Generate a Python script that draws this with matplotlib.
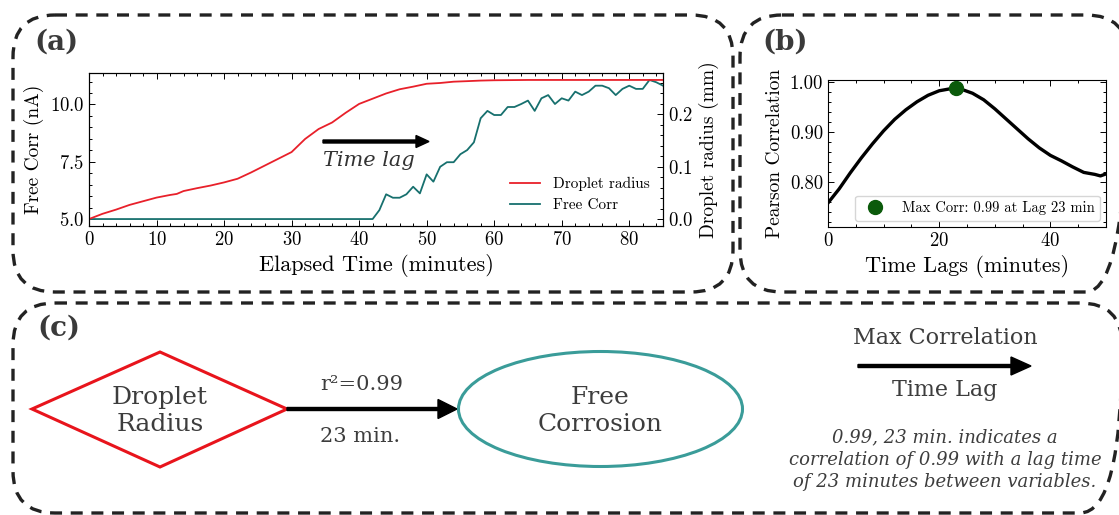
import matplotlib
matplotlib.use('Agg')
import matplotlib.pyplot as plt
from matplotlib.patches import FancyBboxPatch, Polygon, Ellipse
from matplotlib.ticker import AutoMinorLocator, MultipleLocator, FormatStrFormatter

plt.rcParams['font.family'] = 'cmr10'
plt.rcParams['mathtext.fontset'] = 'cm'
plt.rcParams['axes.formatter.use_mathtext'] = True
plt.rcParams['axes.unicode_minus'] = False

# data, panel (a)
t_radius = [0, 2, 4, 6, 8, 10, 12, 13, 14, 16, 18, 20, 22, 24, 26, 28, 30, 32, 34, 36,
            38, 40, 42, 44, 46, 48, 50, 52, 54, 56, 58, 60, 65, 70, 75, 80, 85]
radius_mm = [0.000, 0.010, 0.018, 0.027, 0.034, 0.041, 0.046, 0.048, 0.0535, 0.059, 0.064,
             0.070, 0.077, 0.089, 0.102, 0.115, 0.128, 0.153, 0.172, 0.1845, 0.203, 0.220,
             0.230, 0.240, 0.248, 0.253, 0.2585, 0.260, 0.2625, 0.2635, 0.2646, 0.2652,
             0.2658, 0.2658, 0.2658, 0.2658, 0.2658]

t_corr = [0, 42, 43, 44, 45, 46, 47, 48, 49, 50, 51, 52, 53, 54, 55, 56, 57, 58, 59, 60,
          61, 62, 63, 64, 65, 66, 67, 68, 69, 70, 71, 72, 73, 74, 75, 76, 77, 78, 79, 80,
          81, 82, 83, 84, 85]
corr_nA = [5.00, 5.00, 5.39, 6.08, 5.93, 5.93, 6.08, 6.41, 6.12, 6.95, 6.63, 7.28, 7.48,
           7.48, 7.83, 8.01, 8.35, 9.40, 9.72, 9.54, 9.54, 9.89, 9.89, 10.02, 10.17, 9.72,
           10.27, 10.41, 10.02, 10.27, 10.17, 10.56, 10.41, 10.56, 10.82, 10.82, 10.71,
           10.41, 10.68, 10.82, 10.68, 10.68, 11.07, 10.97, 10.82]

# data, panel (b)
lags = [0, 2, 4, 6, 8, 10, 12, 14, 16, 18, 20, 22, 23, 24, 26, 28, 30, 32, 34, 36, 38,
        40, 42, 44, 46, 48, 49, 50]
pearson = [0.758, 0.786, 0.818, 0.848, 0.876, 0.902, 0.925, 0.944, 0.960, 0.973, 0.982,
           0.986, 0.987, 0.985, 0.977, 0.964, 0.946, 0.926, 0.906, 0.886, 0.868, 0.853,
           0.842, 0.830, 0.819, 0.815, 0.812, 0.816]
best_lag = 23
best_corr = 0.987

RED = '#e8202a'
TEAL = '#17706e'
GREY = '#3d3d3d'
W, H = 1119, 515

fig = plt.figure(figsize=(W / 100, H / 100), dpi=100)


def px_axes(left, top, right, bottom):
    return fig.add_axes([left / W, 1 - bottom / H, (right - left) / W, (bottom - top) / H])


def style(ax):
    ax.tick_params(which='both', direction='in', top=True, labelsize=13.5, width=0.7)
    ax.tick_params(which='major', length=4.5)
    ax.tick_params(which='minor', length=2.5)
    for s in ax.spines.values():
        s.set_linewidth(0.8)


# ---- panel (a)
ax_a = px_axes(89, 73, 663, 226)
ax_a.plot(t_corr, corr_nA, color=TEAL, lw=1.3, label='Free Corr')
ax_a.set_xlim(0, 85)
ax_a.set_ylabel('Free Corr (nA)', fontsize=14)
ax_a.set_xlabel('Elapsed Time (minutes)', fontsize=16)
ax_a.yaxis.set_major_locator(MultipleLocator(2.5))
ax_a.xaxis.set_minor_locator(AutoMinorLocator(5))
ax_a.yaxis.set_minor_locator(AutoMinorLocator(5))
style(ax_a)
ax_a.tick_params(which='both', right=False)

ax_a2 = ax_a.twinx()
ax_a2.plot(t_radius, radius_mm, color=RED, lw=1.3, label='Droplet radius')
ax_a2.set_ylabel('Droplet radius (mm)', fontsize=14)
ax_a2.yaxis.set_minor_locator(AutoMinorLocator(5))
ax_a2.tick_params(which='both', direction='in', labelsize=13.5, width=0.7)
ax_a2.tick_params(which='major', length=4.5)
ax_a2.tick_params(which='minor', length=2.5)

h1, l1 = ax_a2.get_legend_handles_labels()
h2, l2 = ax_a.get_legend_handles_labels()
ax_a2.legend(h1 + h2, l1 + l2, loc='lower right', frameon=False, fontsize=11)

# ---- panel (b)
ax_b = px_axes(828, 80, 1106, 227)
ax_b.plot(lags, pearson, color='black', lw=2.4)
ax_b.plot([best_lag], [best_corr], 'o', color='#0b5a0b', ms=10,
          label=f'Max Corr: 0.99 at Lag {best_lag} min', zorder=5)
ax_b.set_xlim(0, 50)
ax_b.set_ylim(0.71, 1.0035)
ax_b.set_yticks([0.80, 0.90, 1.00])
ax_b.yaxis.set_major_formatter(FormatStrFormatter('%.2f'))
ax_b.xaxis.set_major_locator(MultipleLocator(20))
ax_b.xaxis.set_minor_locator(MultipleLocator(5))
ax_b.yaxis.set_minor_locator(AutoMinorLocator(5))
ax_b.set_xlabel('Time Lags (minutes)', fontsize=16)
ax_b.set_ylabel('Pearson Correlation', fontsize=14)
style(ax_b)
ax_b.tick_params(which='both', right=True)
ax_b.legend(loc='lower right', fontsize=10.5, borderaxespad=0.4, edgecolor='#cccccc')

# ---- overlay in pixel coordinates: frames and panel (c)
bg = fig.add_axes([0, 0, 1, 1])
bg.set_xlim(0, W)
bg.set_ylim(H, 0)
bg.axis('off')
bg.patch.set_visible(False)

for x0, y0, x1, y1 in [(13, 15, 733, 292), (740, 15, 1128, 292), (13, 303, 1122, 513)]:
    bg.add_patch(FancyBboxPatch((x0, y0), x1 - x0, y1 - y0,
                                boxstyle='round,pad=0,rounding_size=42',
                                fill=False, ec='#222222', lw=2.4,
                                linestyle=(0, (3.6, 2.6))))

lab = dict(family='DejaVu Serif', fontweight='bold', fontsize=20, color='#3a3a3a',
           ha='left', va='center')
bg.text(34, 42, '(a)', **lab)
bg.text(762, 42, '(b)', **lab)
bg.text(37, 328, '(c)', **lab)

# time lag arrow in panel (a)
bg.arrow(323, 141.5, 106, 0, width=3, head_width=12, head_length=13,
         length_includes_head=True, color='black')
bg.text(323, 160, 'Time lag', family='DejaVu Serif', style='italic', fontsize=15,
        color='#333333', ha='left', va='center')

serif = dict(family='DejaVu Serif', color=GREY, ha='center', va='center')
bg.add_patch(Polygon([(32, 409), (160, 352), (287, 409), (160, 467)], closed=True,
                     fill=False, ec='#e8141c', lw=2.2, joinstyle='miter'))
bg.text(160, 411, 'Droplet\nRadius', fontsize=18, linespacing=1.2, **serif)

bg.arrow(287, 409, 170, 0, width=3, head_width=19, head_length=19,
         length_includes_head=True, color='black')
bg.text(362, 385, 'r²=0.99', fontsize=15, **serif)
bg.text(360, 437, '23 min.', fontsize=15, **serif)

bg.add_patch(Ellipse((600.5, 409), 284, 115, fill=False, ec='#3a9c99', lw=2.2))
bg.text(600, 411, 'Free\nCorrosion', fontsize=18, linespacing=1.2, **serif)

bg.text(945, 338, 'Max Correlation', fontsize=16, **serif)
bg.arrow(858, 366, 173, 0, width=3, head_width=18, head_length=20,
         length_includes_head=True, color='black')
bg.text(945, 390, 'Time Lag', fontsize=16, **serif)
bg.text(945, 460, '0.99, 23 min. indicates a\ncorrelation of 0.99 with a lag time\n'
        'of 23 minutes between variables.', fontsize=13, style='italic',
        linespacing=1.3, **serif)

fig.savefig('out.png', dpi=100)
